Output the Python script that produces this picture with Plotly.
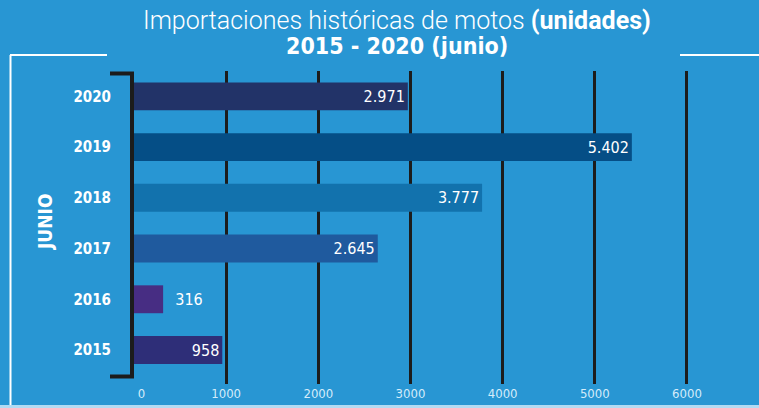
import plotly.graph_objects as go

# Data -------------------------------------------------------------------
years = ["2015", "2016", "2017", "2018", "2019", "2020"]
units = [958, 316, 2645, 3777, 5402, 2971]
labels = ["958", "\u00a0\u00a0316", "2.645", "3.777", "5.402", "2.971"]
bar_colors = ["#2e2e78", "#472d83", "#1f5a9e", "#1272ad", "#054e86", "#223368"]
x_ticks = [0, 1000, 2000, 3000, 4000, 5000, 6000]
x_tick_text = ["\u00a0\u00a0\u00a0\u00a00", "1000", "2000", "3000", "4000", "5000", "6000"]

BG = "#2896d3"
NARROW = "DejaVu Sans Condensed, sans-serif"

# plot area in pixels (for placing decorations)
L, R, T, B = 134, 710, 71, 384
W, H = R - L, B - T


def px(x):
    return (x - L) / W


def py(y):
    return (B - y) / H


positions = ["outside" if v < 600 else "inside" for v in units]

fig = go.Figure()
fig.add_trace(go.Bar(
    x=units, y=years, orientation="h",
    marker=dict(color=bar_colors, line=dict(width=0)),
    width=0.55,
    text=labels, textposition=positions,
    insidetextanchor="end",
    textfont=dict(family=NARROW, size=16, color="white"),
    cliponaxis=False,
))

fig.update_layout(
    width=759, height=408,
    margin=dict(l=L, r=759 - R, t=T, b=408 - B),
    paper_bgcolor=BG, plot_bgcolor=BG,
    showlegend=False,
    bargap=0.45,
    xaxis=dict(range=[0, 6250], tickvals=x_ticks, ticktext=x_tick_text,
               tickfont=dict(family=NARROW, size=13, color="#d4ecfa"),
               ticklabelstandoff=0, automargin=False,
               showgrid=True, gridcolor="#1c1c1c", gridwidth=2.5,
               zeroline=False, showline=False, ticks=""),
    yaxis=dict(categoryorder="array", categoryarray=years,
               range=[-0.67, 5.5], automargin=False,
               tickfont=dict(family=NARROW, size=15, color="white", weight="bold"),
               ticklabelstandoff=22, showgrid=False, zeroline=False, ticks=""),
)

# title
fig.add_annotation(
    x=px(397), y=py(21), xref="paper", yref="paper", showarrow=False,
    xanchor="center", yanchor="middle",
    text="Importaciones históricas de motos <b>(unidades)</b>",
    font=dict(family="Roboto", size=25, color="white", weight=300))
fig.add_annotation(
    x=px(397), y=py(46), xref="paper", yref="paper", showarrow=False,
    xanchor="center", yanchor="middle",
    text="<b>2015 - 2020 (junio)</b>",
    font=dict(family=NARROW, size=23, color="white"))

# side label
fig.add_annotation(
    x=px(45), y=py(222), xref="paper", yref="paper", showarrow=False,
    xanchor="center", yanchor="middle",
    text="<b>JUNIO</b>", textangle=-90,
    font=dict(family=NARROW, size=19, color="white"))

# white frame and bottom line
frame = [
    (10.5, 55, 10.5, 410, "white", 2),
    (10, 55, 107, 55, "white", 2),
    (680, 55, 760, 55, "white", 2),
    (0, 406.5, 760, 406.5, "#b3dbf3", 3),
]
# black bracket
bracket = [
    (132, 72, 132, 378, "#1c1c1c", 4),
    (110, 73.5, 134, 73.5, "#1c1c1c", 4),
    (110, 376.5, 134, 376.5, "#1c1c1c", 4),
]
for x0, y0, x1, y1, c, w in frame + bracket:
    fig.add_shape(type="line", xref="paper", yref="paper",
                  x0=px(x0), y0=py(y0), x1=px(x1), y1=py(y1),
                  line=dict(color=c, width=w), layer="above")

fig.write_html("out.html", config={"displayModeBar": False},
               post_script="document.body.style.margin='0';")
